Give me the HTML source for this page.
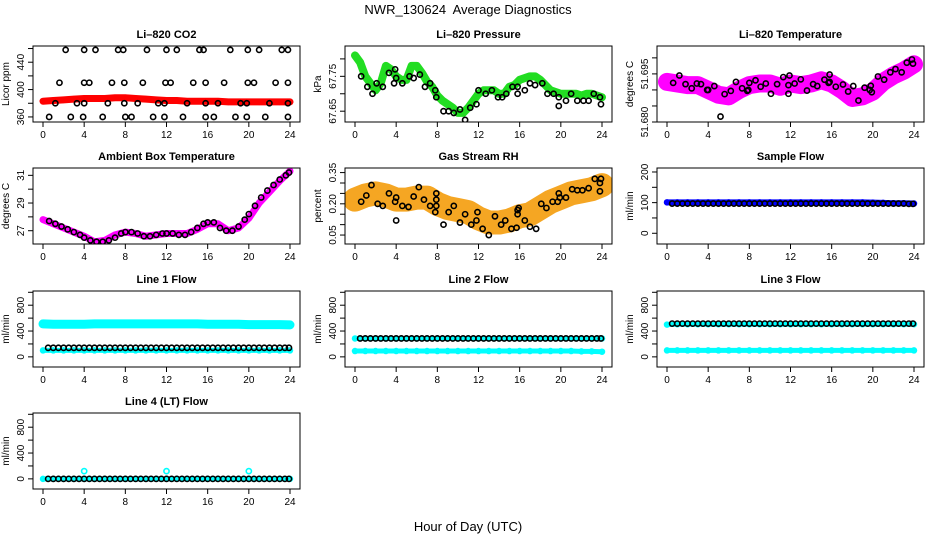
<!DOCTYPE html>
<html><head><meta charset="utf-8"><style>
html,body{margin:0;padding:0;background:#fff}
svg{display:block;font-family:"Liberation Sans",Arial,sans-serif}
</style></head><body>
<svg id="chart" width="936" height="540" viewBox="0 0 936 540" xmlns="http://www.w3.org/2000/svg">
<rect width="936" height="540" fill="#fff"/>
<text x="468" y="14" font-size="13" text-anchor="middle" style="white-space:pre">NWR_130624  Average Diagnostics</text>
<text x="468" y="531" font-size="13" text-anchor="middle">Hour of Day (UTC)</text>
</svg>
<script>
const xTicks=[0,4,8,12,16,20,24];
const hours=[0,1,2,3,4,5,6,7,8,9,10,11,12,13,14,15,16,17,18,19,20,21,22,23,24];
const halfHours=[0,0.5,1,1.5,2,2.5,3,3.5,4,4.5,5,5.5,6,6.5,7,7.5,8,8.5,9,9.5,10,10.5,11,11.5,12,12.5,13,13.5,14,14.5,15,15.5,16,16.5,17,17.5,18,18.5,19,19.5,20,20.5,21,21.5,22,22.5,23,23.5,24];
const regX=[0.5,1,1.5,2,2.5,3,3.5,4,4.5,5,5.5,6,6.5,7,7.5,8,8.5,9,9.5,10,10.5,11,11.5,12,12.5,13,13.5,14,14.5,15,15.5,16,16.5,17,17.5,18,18.5,19,19.5,20,20.5,21,21.5,22,22.5,23,23.5,23.9];

// CO2
const co2Red=[383,384,385,386,387,387,387,388,388,387,386,385,384,384,383,383,383,383,382,382,382,382,382,382,382];
const co2BlackX=[2.2,4,5.1,7.3,7.8,10.1,12,13,15.2,15.6,18.2,19.9,21,23.2,23.8, 1.6,4,4.5,6.7,7.9,9.7,11.9,12.4,14.6,15.8,17.6,19.9,20.5,22.6,23.8, 1.2,3.3,4,6.3,7.9,9.2,11.2,11.8,14,15.8,17,19.2,19.8,22,23.8, 0.6,2.7,3.9,5.8,8,8.6,10.7,11.8,13.6,15.8,16.6,18.7,19.8,21.6,23.8];
const co2BlackY=[458,458,458,458,458,458,458,458,458,458,458,458,458,458,458, 410,410,410,410,410,410,410,410,410,410,410,410,410,410,410, 380,380,380,380,380,380,380,380,380,380,380,380,380,380,380, 360,360,360,360,360,360,360,360,360,360,360,360,360,360,360];
// Pressure
const presGreen=[67.81,67.79,67.75,67.73,67.71,67.73,67.78,67.77,67.75,67.74,67.74,67.78,67.78,67.76,67.735,67.72,67.695,67.68,67.67,67.66,67.645,67.645,67.66,67.68,67.70,67.71,67.71,67.71,67.70,67.70,67.72,67.725,67.74,67.745,67.75,67.75,67.74,67.725,67.71,67.705,67.70,67.70,67.70,67.70,67.695,67.70,67.70,67.695,67.69];
const presBlackX=[0.6,1.2,1.7,2.1,2.7,3.3,3.9,4,3.8,4.6,5.3,5.7,6.3,6.8,7.3,7.8,7.9,8.6,9.1,9.6,10.2,10.7,11.2,11.8,12,12.7,13.3,13.9,14.3,14.7,15.3,15.8,15.8,16.5,17,17.5,18.2,18.7,19.3,19.8,19.8,20.5,21,21.6,22.2,22.7,23.2,23.8,23.9];
const presBlackY=[67.75,67.72,67.70,67.73,67.72,67.76,67.77,67.745,67.73,67.73,67.75,67.745,67.755,67.72,67.73,67.71,67.69,67.65,67.65,67.645,67.655,67.625,67.66,67.67,67.71,67.70,67.71,67.69,67.69,67.70,67.72,67.72,67.70,67.71,67.73,67.725,67.73,67.70,67.70,67.665,67.69,67.68,67.70,67.68,67.68,67.68,67.70,67.69,67.67];
// Li-820 temperature
const tempMag=[51.6925,51.692,51.6915,51.6915,51.690,51.6885,51.688,51.690,51.6915,51.692,51.692,51.691,51.692,51.6915,51.692,51.693,51.692,51.690,51.6875,51.688,51.6895,51.6925,51.6945,51.696,51.698];
const tempBlackX=[0.6,1.2,1.8,2.4,2.9,3.3,3.9,4,4.6,5.2,5.6,6.2,6.7,7.3,7.8,7.9,8,8.6,9.1,9.6,10.1,10.7,11.3,11.8,11.8,11.9,12.4,13,13.6,14.2,14.6,15.3,15.7,15.8,15.8,16.4,17.1,17.6,18.1,18.6,19.2,19.7,19.8,19.9,20.5,21.1,21.7,22.2,22.8,23.3,23.8,23.9];
const tempBlackY=[51.6922,51.6945,51.6918,51.6905,51.692,51.6918,51.690,51.690,51.6912,51.6817,51.6887,51.6897,51.6925,51.6905,51.6897,51.690,51.6922,51.693,51.691,51.692,51.6888,51.6918,51.694,51.6915,51.6888,51.6945,51.692,51.6933,51.6898,51.6918,51.6912,51.6932,51.6922,51.6948,51.6925,51.691,51.6917,51.6895,51.6912,51.6867,51.6907,51.690,51.6913,51.6893,51.6942,51.6932,51.6955,51.6965,51.6955,51.6985,51.6995,51.6982];
// Ambient
const ambMag=[27.8,27.5,27.2,26.9,26.6,26.2,26.3,26.7,26.9,26.8,26.6,26.7,26.8,26.8,26.8,27.1,27.5,27.5,27.0,27.2,27.9,29.0,29.8,30.6,31.3];
const ambBlackX=[0.6,1.2,1.8,2.4,3,3.6,4,4.6,5.2,5.8,6.4,7,7.6,8,8.6,9.2,9.8,10.4,11,11.6,12,12.6,13.2,13.8,14.4,15,15.6,16,16.6,17.2,17.8,18.4,19,19.6,20,20.6,21.2,21.8,22.4,23,23.6,23.9];
const ambBlackY=[27.7,27.5,27.3,27.1,26.9,26.7,26.5,26.3,26.2,26.2,26.3,26.5,26.8,26.9,26.9,26.8,26.6,26.6,26.7,26.8,26.8,26.8,26.7,26.7,26.9,27.2,27.5,27.6,27.6,27.2,27.0,27.0,27.3,27.8,28.2,28.8,29.4,29.9,30.3,30.7,31.0,31.2];
// RH
const rhOrange=[0.22,0.24,0.25,0.24,0.22,0.22,0.23,0.23,0.20,0.18,0.17,0.16,0.13,0.11,0.11,0.12,0.14,0.15,0.18,0.21,0.23,0.25,0.26,0.27,0.29];
const rhBlackX=[0.6,1.1,1.6,2.2,2.7,3.3,3.9,4,4,4.6,5.2,5.7,6.2,6.7,7.3,7.8,7.9,7.9,7.9,8.6,9.1,9.6,10.2,10.7,11.3,11.8,11.9,12.4,13,13.6,14.2,14.6,15.2,15.7,15.8,15.8,15.9,16.5,17,17.6,18.1,18.6,19.2,19.7,19.8,19.9,20.5,21.1,21.6,22.1,22.7,23.3,23.8,23.8,23.9];
const rhBlackY=[0.21,0.24,0.29,0.20,0.19,0.25,0.21,0.23,0.12,0.19,0.185,0.235,0.28,0.22,0.19,0.16,0.19,0.22,0.25,0.10,0.16,0.19,0.11,0.15,0.10,0.12,0.16,0.08,0.05,0.14,0.10,0.12,0.08,0.085,0.15,0.17,0.18,0.12,0.09,0.08,0.20,0.18,0.21,0.21,0.25,0.23,0.23,0.27,0.265,0.265,0.275,0.32,0.26,0.30,0.32];
// Sample flow
const sampleBlue=[101,101,101,101,101,101,101,101,101,101,101,101,101,101,101,101,101,101,101,101,100,99,98,98,97];
const sampleBlack=[97,97,97,97,97,97,97,97,97,97,97,97,97,97,97,97,97,97,97,97,97,97,97,97,97,97,97,97,97,97,97,97,97,97,97,97,97,97,97,97,97,97,97,97,97,97,96,96];
// Line flows
const line1CyanHigh=[510,505,505,505,505,510,510,510,510,510,510,510,510,510,510,510,505,505,505,505,500,500,500,500,495];
const line1CyanLow=[100,100,100,100,100,100,100,100,100,100,100,100,100,100,100,100,100,100,100,100,100,100,100,100,100];
const line1Black=[140,140,140,140,140,140,140,140,140,140,140,140,140,140,140,140,140,140,140,140,140,140,140,140,140,140,140,140,140,140,140,140,140,140,140,140,140,140,140,140,140,140,140,140,140,140,140,140];
const line2CyanHigh=[285,285,285,285,285,285,285,285,285,285,285,285,285,285,285,285,285,285,285,285,285,285,285,285,285];
const line2CyanLow=[90,90,90,90,90,90,90,90,90,90,90,90,90,90,90,90,90,90,90,90,90,90,85,85,80];
const line2Black=[285,285,285,285,285,285,285,285,285,285,285,285,285,285,285,285,285,285,285,285,285,285,285,285,285,285,285,285,285,285,285,285,285,285,285,285,285,285,285,285,285,285,285,285,285,285,285,285];
const line3CyanHigh=[500,505,505,505,505,505,505,505,505,505,505,505,505,505,505,505,505,505,505,505,505,505,505,505,505];
const line3CyanLow=[100,100,100,100,100,100,100,100,100,100,100,100,100,100,100,100,100,100,100,100,100,100,100,100,100];
const line3Black=[515,515,515,515,515,515,515,515,515,515,515,515,515,515,515,515,515,515,515,515,515,515,515,515,515,515,515,515,515,515,515,515,515,515,515,515,515,515,515,515,515,515,515,515,515,515,515,515];
const line4Cyan=[0,0,0,0,0,0,0,0,0,0,0,0,0,0,0,0,0,0,0,0,0,0,0,0,0];
const line4OutX=[4,12,20];
const line4OutY=[120,120,120];
const line4Black=[0,0,0,0,0,0,0,0,0,0,0,0,0,0,0,0,0,0,0,0,0,0,0,0,0,0,0,0,0,0,0,0,0,0,0,0,0,0,0,0,0,0,0,0,0,0,0,0];

const svg=document.getElementById('chart');
const NS='http://www.w3.org/2000/svg';
function mk(tag,attrs,parent){const e=document.createElementNS(NS,tag);for(const k in attrs)e.setAttribute(k,attrs[k]);(parent||svg).appendChild(e);return e;}

const colL=[33,345,657], rowT=[46,168,291,413], W=267, H=76;
function panel(col,row,name,title,ylab,ymin,ymax,ticks,labels){
  const L=colL[col],T=rowT[row],B=T+H,R=L+W;
  const g=mk('g',{});
  
  
  const sx=v=>L+10+v*(W-20)/24;
  const sy=v=>B-(v-ymin)/(ymax-ymin)*H;
  const t=mk('text',{x:L+W/2,y:T-8,'font-size':11,'font-weight':'bold','text-anchor':'middle'},g);t.textContent=title;
  
  
  const yl=mk('text',{x:0,y:0,'font-size':10,'text-anchor':'middle',transform:`translate(${L-24},${T+H/2}) rotate(-90)`},g);yl.textContent=ylab;
  
  
  const ax=mk('g',{stroke:'#000','stroke-width':1},g);
  
  
  xTicks.forEach(v=>{mk('line',{x1:sx(v),x2:sx(v),y1:B,y2:B+5},ax);
    const tl=mk('text',{x:sx(v),y:B+16,'font-size':10,'text-anchor':'middle',stroke:'none'},g);tl.textContent=v;
    
    });
  const ay=mk('g',{stroke:'#000','stroke-width':1},g);
  
  
  ticks.forEach(v=>{mk('line',{x1:L-5,x2:L,y1:sy(v),y2:sy(v)},ay);});
  labels.forEach(v=>{const tl=mk('text',{x:0,y:0,'font-size':10,'text-anchor':'middle',transform:`translate(${L-9},${sy(v)}) rotate(-90)`},g);tl.textContent=v;
    
    });
  const plot=mk('g',{},g);
  const clip='clip'+col+row;
  const cp=mk('clipPath',{id:clip},g);mk('rect',{x:L,y:T,width:W,height:H},cp);
  plot.setAttribute('clip-path',`url(#${clip})`);
  const box=mk('rect',{x:L,y:T,width:W,height:H,fill:'none',stroke:'#000','stroke-width':1},g);
  
  
  return {sx,sy,plot,name};
}
function band(p,xs,ys,color,w,label){
  const gg=mk('g',{},p.plot);
  
  
  const pts=xs.map((x,i)=>p.sx(x)+','+p.sy(ys[i])).join(' ');
  mk('polyline',{points:pts,fill:'none',stroke:color,'stroke-width':w,'stroke-linejoin':'round','stroke-linecap':'round'},gg);
  xs.forEach((x,i)=>{mk('circle',{cx:p.sx(x),cy:p.sy(ys[i]),r:2.5,fill:'none',stroke:color,'stroke-width':1.5},gg);});
}
function pts(p,xs,ys,color,label){
  const gg=mk('g',{},p.plot);
  
  
  xs.forEach((x,i)=>{const c=mk('circle',{cx:p.sx(x),cy:p.sy(ys[i]),r:2.6,fill:'none',stroke:color,'stroke-width':1.6},gg);
    
    });
}
const flowT=[0,200,400,600,800,1000], flowL=[0,400,800];

let p=panel(0,0,'co2','Li\u2013820 CO2','Licor ppm',352.6,463.7,[360,380,400,420,440,460],[360,400,440]);
band(p,hours,co2Red,'#ff0000',7,'co2-red-series');
pts(p,co2BlackX,co2BlackY,'#000','co2-black-series');

p=panel(1,0,'pressure','Li\u2013820 Pressure','kPa',67.619,67.837,[67.65,67.70,67.75,67.80],[67.65,67.75]);
band(p,halfHours,presGreen,'#22dd22',8,'pressure-green-series');
pts(p,presBlackX,presBlackY,'#000','pressure-black-series');

p=panel(2,0,'temperature','Li\u2013820 Temperature','degrees C',51.680,51.7037,[51.680,51.685,51.690,51.695,51.700],['51.680','51.695']);
band(p,hours,tempMag,'#ff00ff',18,'temperature-magenta-series');
pts(p,tempBlackX,tempBlackY,'#000','temperature-black-series');

p=panel(0,1,'ambient','Ambient Box Temperature','degrees C',26.04,31.53,[27,28,29,30,31],[27,29,31]);
band(p,hours,ambMag,'#ff00ff',7,'ambient-magenta-series');
pts(p,ambBlackX,ambBlackY,'#000','ambient-black-series');

p=panel(1,1,'rh','Gas Stream RH','percent',0.007,0.372,[0.05,0.10,0.15,0.20,0.25,0.30,0.35],['0.05','0.20','0.35']);
band(p,hours,rhOrange,'#f5a623',24,'rh-orange-series');
pts(p,rhBlackX,rhBlackY,'#000','rh-black-series');

p=panel(2,1,'sample-flow','Sample Flow','ml/min',-35,213,[0,50,100,150,200],[0,100,200]);
band(p,hours,sampleBlue,'#0000ff',6,'sample-blue-series');
pts(p,regX,sampleBlack,'#000','sample-black-series');

p=panel(0,2,'line1','Line 1 Flow','ml/min',-157,1020,flowT,flowL);
band(p,hours,line1CyanHigh,'#00ffff',9,'line1-cyan-high-series');
band(p,hours,line1CyanLow,'#00ffff',5,'line1-cyan-low-series');
pts(p,regX,line1Black,'#000','line1-black-series');

p=panel(1,2,'line2','Line 2 Flow','ml/min',-157,1020,flowT,flowL);
band(p,hours,line2CyanHigh,'#00ffff',5,'line2-cyan-high-series');
band(p,hours,line2CyanLow,'#00ffff',5,'line2-cyan-low-series');
pts(p,regX,line2Black,'#000','line2-black-series');

p=panel(2,2,'line3','Line 3 Flow','ml/min',-157,1020,flowT,flowL);
band(p,hours,line3CyanHigh,'#00ffff',5,'line3-cyan-high-series');
band(p,hours,line3CyanLow,'#00ffff',5,'line3-cyan-low-series');
pts(p,regX,line3Black,'#000','line3-black-series');

p=panel(0,3,'line4','Line 4 (LT) Flow','ml/min',-157,1020,flowT,flowL);
band(p,hours,line4Cyan,'#00ffff',5,'line4-cyan-series');
pts(p,line4OutX,line4OutY,'#00ffff','line4-cyan-outliers');
pts(p,regX,line4Black,'#000','line4-black-series');
</script>
</body></html>
